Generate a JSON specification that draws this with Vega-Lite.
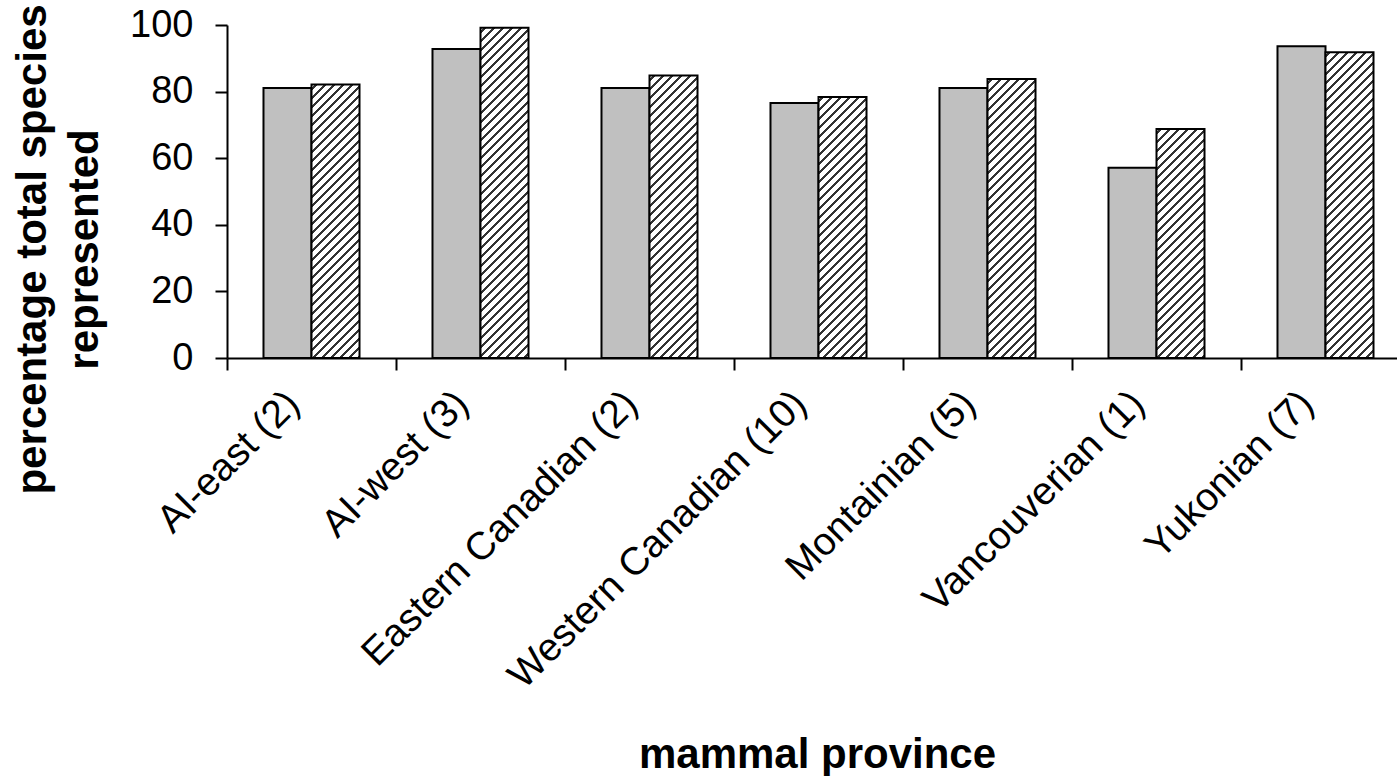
{
  "$schema": "https://vega.github.io/schema/vega-lite/v6.json",
  "autosize": "none",
  "padding": {"left": 227, "top": 25, "right": 0, "bottom": 418},
  "width": 1170,
  "height": 333,
  "background": "white",
  "config": {
    "view": {"stroke": null},
    "axis": {
      "domainColor": "black", "domainWidth": 2, "tickColor": "black", "tickWidth": 2, "tickSize": 12,
      "labelColor": "black", "labelFont": "Liberation Sans", "labelFontSize": 38,
      "titleColor": "black", "titleFont": "Liberation Sans", "titleFontSize": 42, "titleFontWeight": "bold",
      "grid": false
    }
  },
  "params": [
    {"name": "hatch", "value": [
      {"offset":0,"color":"#fff"},
      {"offset":0.0075,"color":"#fff"},{"offset":0.0075,"color":"#333"},{"offset":0.015,"color":"#333"},{"offset":0.015,"color":"#fff"},
      {"offset":0.03,"color":"#fff"},{"offset":0.03,"color":"#333"},{"offset":0.0375,"color":"#333"},{"offset":0.0375,"color":"#fff"},
      {"offset":0.0525,"color":"#fff"},{"offset":0.0525,"color":"#333"},{"offset":0.06,"color":"#333"},{"offset":0.06,"color":"#fff"},
      {"offset":0.075,"color":"#fff"},{"offset":0.075,"color":"#333"},{"offset":0.0825,"color":"#333"},{"offset":0.0825,"color":"#fff"},
      {"offset":0.0975,"color":"#fff"},{"offset":0.0975,"color":"#333"},{"offset":0.105,"color":"#333"},{"offset":0.105,"color":"#fff"},
      {"offset":0.12,"color":"#fff"},{"offset":0.12,"color":"#333"},{"offset":0.1275,"color":"#333"},{"offset":0.1275,"color":"#fff"},
      {"offset":0.1425,"color":"#fff"},{"offset":0.1425,"color":"#333"},{"offset":0.15,"color":"#333"},{"offset":0.15,"color":"#fff"},
      {"offset":0.165,"color":"#fff"},{"offset":0.165,"color":"#333"},{"offset":0.1725,"color":"#333"},{"offset":0.1725,"color":"#fff"},
      {"offset":0.1875,"color":"#fff"},{"offset":0.1875,"color":"#333"},{"offset":0.195,"color":"#333"},{"offset":0.195,"color":"#fff"},
      {"offset":0.21,"color":"#fff"},{"offset":0.21,"color":"#333"},{"offset":0.2175,"color":"#333"},{"offset":0.2175,"color":"#fff"},
      {"offset":0.2325,"color":"#fff"},{"offset":0.2325,"color":"#333"},{"offset":0.24,"color":"#333"},{"offset":0.24,"color":"#fff"},
      {"offset":0.255,"color":"#fff"},{"offset":0.255,"color":"#333"},{"offset":0.2625,"color":"#333"},{"offset":0.2625,"color":"#fff"},
      {"offset":0.2775,"color":"#fff"},{"offset":0.2775,"color":"#333"},{"offset":0.285,"color":"#333"},{"offset":0.285,"color":"#fff"},
      {"offset":0.3,"color":"#fff"},{"offset":0.3,"color":"#333"},{"offset":0.3075,"color":"#333"},{"offset":0.3075,"color":"#fff"},
      {"offset":0.3225,"color":"#fff"},{"offset":0.3225,"color":"#333"},{"offset":0.33,"color":"#333"},{"offset":0.33,"color":"#fff"},
      {"offset":0.345,"color":"#fff"},{"offset":0.345,"color":"#333"},{"offset":0.3525,"color":"#333"},{"offset":0.3525,"color":"#fff"},
      {"offset":0.3675,"color":"#fff"},{"offset":0.3675,"color":"#333"},{"offset":0.375,"color":"#333"},{"offset":0.375,"color":"#fff"},
      {"offset":0.39,"color":"#fff"},{"offset":0.39,"color":"#333"},{"offset":0.3975,"color":"#333"},{"offset":0.3975,"color":"#fff"},
      {"offset":0.4125,"color":"#fff"},{"offset":0.4125,"color":"#333"},{"offset":0.42,"color":"#333"},{"offset":0.42,"color":"#fff"},
      {"offset":0.435,"color":"#fff"},{"offset":0.435,"color":"#333"},{"offset":0.4425,"color":"#333"},{"offset":0.4425,"color":"#fff"},
      {"offset":0.4575,"color":"#fff"},{"offset":0.4575,"color":"#333"},{"offset":0.465,"color":"#333"},{"offset":0.465,"color":"#fff"},
      {"offset":0.48,"color":"#fff"},{"offset":0.48,"color":"#333"},{"offset":0.4875,"color":"#333"},{"offset":0.4875,"color":"#fff"},
      {"offset":0.5025,"color":"#fff"},{"offset":0.5025,"color":"#333"},{"offset":0.51,"color":"#333"},{"offset":0.51,"color":"#fff"},
      {"offset":0.525,"color":"#fff"},{"offset":0.525,"color":"#333"},{"offset":0.5325,"color":"#333"},{"offset":0.5325,"color":"#fff"},
      {"offset":0.5475,"color":"#fff"},{"offset":0.5475,"color":"#333"},{"offset":0.555,"color":"#333"},{"offset":0.555,"color":"#fff"},
      {"offset":0.57,"color":"#fff"},{"offset":0.57,"color":"#333"},{"offset":0.5775,"color":"#333"},{"offset":0.5775,"color":"#fff"},
      {"offset":0.5925,"color":"#fff"},{"offset":0.5925,"color":"#333"},{"offset":0.6,"color":"#333"},{"offset":0.6,"color":"#fff"},
      {"offset":0.615,"color":"#fff"},{"offset":0.615,"color":"#333"},{"offset":0.6225,"color":"#333"},{"offset":0.6225,"color":"#fff"},
      {"offset":0.6375,"color":"#fff"},{"offset":0.6375,"color":"#333"},{"offset":0.645,"color":"#333"},{"offset":0.645,"color":"#fff"},
      {"offset":0.66,"color":"#fff"},{"offset":0.66,"color":"#333"},{"offset":0.6675,"color":"#333"},{"offset":0.6675,"color":"#fff"},
      {"offset":0.6825,"color":"#fff"},{"offset":0.6825,"color":"#333"},{"offset":0.69,"color":"#333"},{"offset":0.69,"color":"#fff"},
      {"offset":0.705,"color":"#fff"},{"offset":0.705,"color":"#333"},{"offset":0.7125,"color":"#333"},{"offset":0.7125,"color":"#fff"},
      {"offset":0.7275,"color":"#fff"},{"offset":0.7275,"color":"#333"},{"offset":0.735,"color":"#333"},{"offset":0.735,"color":"#fff"},
      {"offset":0.75,"color":"#fff"},{"offset":0.75,"color":"#333"},{"offset":0.7575,"color":"#333"},{"offset":0.7575,"color":"#fff"},
      {"offset":0.7725,"color":"#fff"},{"offset":0.7725,"color":"#333"},{"offset":0.78,"color":"#333"},{"offset":0.78,"color":"#fff"},
      {"offset":0.795,"color":"#fff"},{"offset":0.795,"color":"#333"},{"offset":0.8025,"color":"#333"},{"offset":0.8025,"color":"#fff"},
      {"offset":0.8175,"color":"#fff"},{"offset":0.8175,"color":"#333"},{"offset":0.825,"color":"#333"},{"offset":0.825,"color":"#fff"},
      {"offset":0.84,"color":"#fff"},{"offset":0.84,"color":"#333"},{"offset":0.8475,"color":"#333"},{"offset":0.8475,"color":"#fff"},
      {"offset":0.8625,"color":"#fff"},{"offset":0.8625,"color":"#333"},{"offset":0.87,"color":"#333"},{"offset":0.87,"color":"#fff"},
      {"offset":0.885,"color":"#fff"},{"offset":0.885,"color":"#333"},{"offset":0.8925,"color":"#333"},{"offset":0.8925,"color":"#fff"},
      {"offset":0.9075,"color":"#fff"},{"offset":0.9075,"color":"#333"},{"offset":0.915,"color":"#333"},{"offset":0.915,"color":"#fff"},
      {"offset":0.93,"color":"#fff"},{"offset":0.93,"color":"#333"},{"offset":0.9375,"color":"#333"},{"offset":0.9375,"color":"#fff"},
      {"offset":0.9525,"color":"#fff"},{"offset":0.9525,"color":"#333"},{"offset":0.96,"color":"#333"},{"offset":0.96,"color":"#fff"},
      {"offset":0.975,"color":"#fff"},{"offset":0.975,"color":"#333"},{"offset":0.9825,"color":"#333"},{"offset":0.9825,"color":"#fff"},
      {"offset":1,"color":"#fff"}
    ]}
  ],
  "data": {"values": [
    {"province": "AI-east (2)", "series": "a", "pct": 81.1},
    {"province": "AI-east (2)", "series": "b", "pct": 82.1},
    {"province": "AI-west (3)", "series": "a", "pct": 92.8},
    {"province": "AI-west (3)", "series": "b", "pct": 99.2},
    {"province": "Eastern Canadian (2)", "series": "a", "pct": 81.1},
    {"province": "Eastern Canadian (2)", "series": "b", "pct": 84.8},
    {"province": "Western Canadian (10)", "series": "a", "pct": 76.6},
    {"province": "Western Canadian (10)", "series": "b", "pct": 78.4},
    {"province": "Montainian (5)", "series": "a", "pct": 81.1},
    {"province": "Montainian (5)", "series": "b", "pct": 83.8},
    {"province": "Vancouverian (1)", "series": "a", "pct": 57.1},
    {"province": "Vancouverian (1)", "series": "b", "pct": 68.8},
    {"province": "Yukonian (7)", "series": "a", "pct": 93.6},
    {"province": "Yukonian (7)", "series": "b", "pct": 91.8}
  ]},
  "mark": {
    "type": "bar",
    "stroke": "black",
    "strokeWidth": 2,
    "fill": {"expr": "datum.series === 'a' ? '#c0c0c0' : {gradient: 'linear', x1: 0, y1: 0, x2: 400*48/(48*48 + pow(datum.pct*3.33, 2)), y2: 400*datum.pct*3.33/(48*48 + pow(datum.pct*3.33, 2)), stops: hatch}"}
  },
  "encoding": {
    "x": {
      "field": "province", "type": "nominal", "sort": null,
      "scale": {"range": [0, 1183], "paddingInner": 0, "paddingOuter": 0},
      "axis": {
        "title": "mammal province", "titleX": 590, "titleY": 409, "titleBaseline": "alphabetic", "titleAlign": "center",
        "tickBand": "extent", "labelAngle": -45, "labelAlign": "right", "labelBaseline": "middle",
        "labelFontSize": 39, "labelOffset": -19, "labelPadding": 27, "labelLimit": 0, "labelOverlap": false
      }
    },
    "xOffset": {"field": "series", "type": "nominal", "scale": {"paddingInner": 0, "paddingOuter": 0.76}},
    "y": {
      "field": "pct", "type": "quantitative",
      "scale": {"domain": [0, 100], "nice": false},
      "axis": {
        "title": ["percentage total species", "represented"], "values": [0, 20, 40, 60, 80, 100],
        "labelPadding": 22, "titleAngle": -90, "titleAlign": "center", "titleBaseline": "alphabetic",
        "titleX": -182, "titleY": 224, "titleLineHeight": 52
      }
    }
  }
}
